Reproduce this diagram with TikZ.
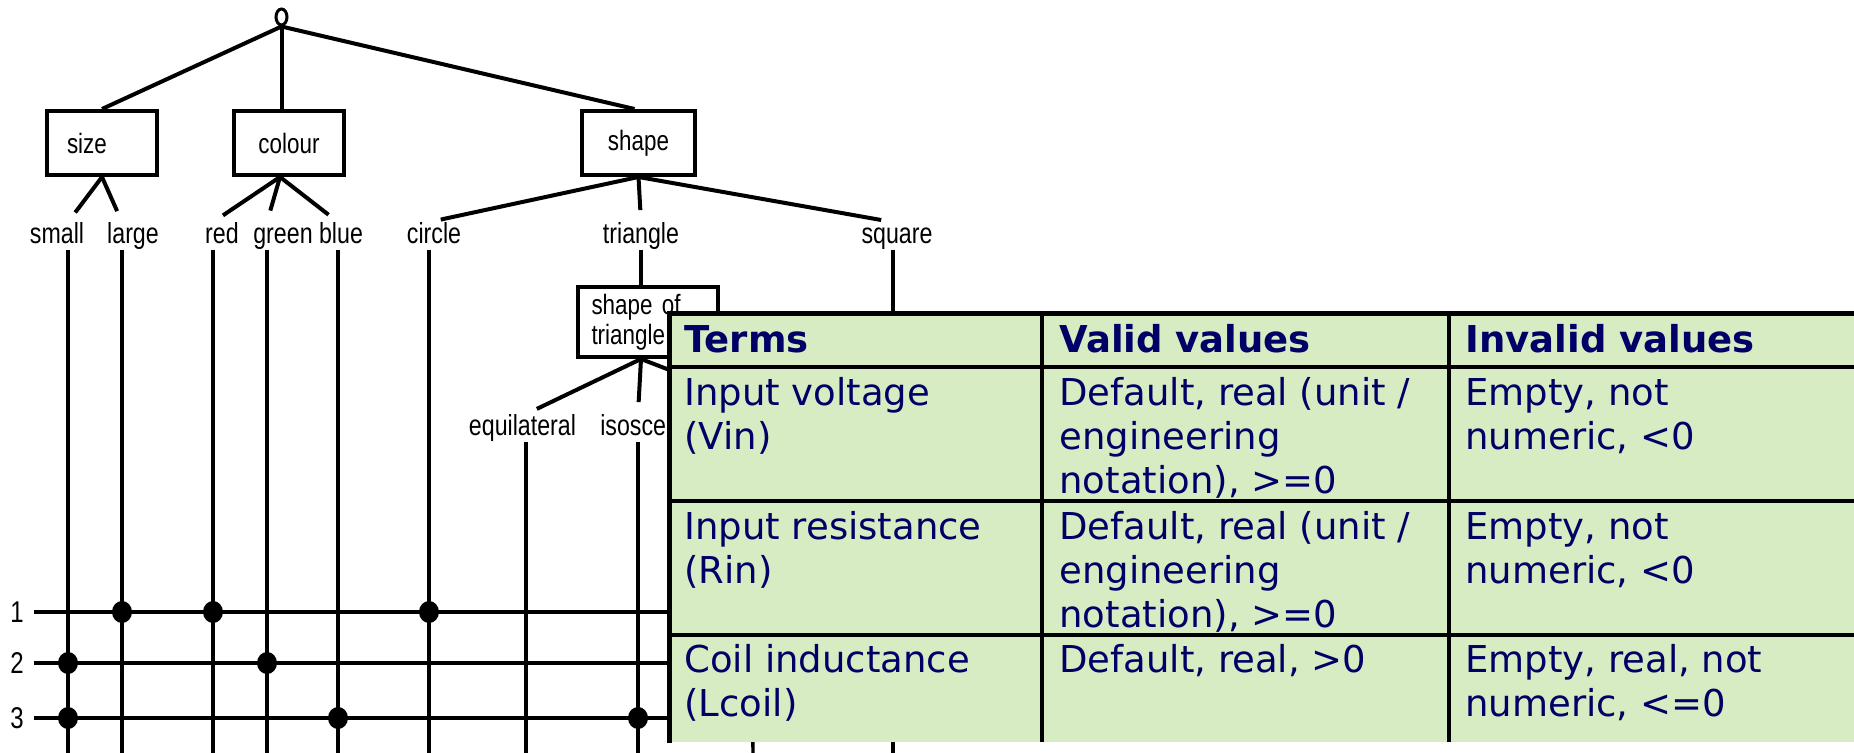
\documentclass[tikz,border=0pt]{standalone}
\usepackage{fontspec}
\usepackage{tikz}
\usetikzlibrary{shapes.geometric}
\newfontfamily\lblfont[FakeStretch=0.8]{Liberation Sans}
\newfontfamily\cellfont{DejaVu Sans}
\definecolor{tablegreen}{RGB}{216,236,195}
\definecolor{termblue}{RGB}{0,0,102}

\begin{document}
\begin{tikzpicture}[x=0.5pt, y=-0.5pt,
   attr/.style={rectangle, draw, line width=2pt, minimum width=55pt, minimum height=32pt,
                inner sep=2pt, font=\lblfont\fontsize{14}{15}\selectfont},
   val/.style={font=\lblfont\fontsize{14.5}{15}\selectfont, text height=10.5pt, text depth=3pt,
               inner xsep=1pt, inner ysep=0pt},
   num/.style={font=\lblfont\fontsize{15}{15}\selectfont, inner sep=1pt},
   twig/.style={line width=2pt, shorten >=6pt},
   wire/.style={line width=1.7pt},
   bus/.style={line width=2.2pt, shorten <=4pt},
   hit/.style={ellipse, fill, minimum width=10pt, minimum height=11pt, inner sep=0pt},
   frame/.style={line width=2.5pt},
   grid/.style={line width=1.7pt},
   cell/.style={anchor=north west, inner sep=0pt, align=left, text=termblue,
                font=\cellfont\fontsize{18.5}{22}\selectfont},
   head/.style={cell, font=\cellfont\bfseries\fontsize{18.5}{22}\selectfont}]
  \useasboundingbox (0,0) rectangle (1854,753);

  % tree of attributes
  \node[draw, ellipse, line width=1.5pt, minimum width=5.5pt, minimum height=8pt, inner sep=0pt] (root) at (281.5,17) {};
  \node[attr, text width=35pt, inner xsep=10pt, align=left] (size) at (102,143) {size};
  \node[attr] (colour) at (289,143) {colour};
  \node[attr, minimum width=56.5pt] (shape) at (638.5,143) {shape};

  \draw[twig, shorten >=0pt] (root.south) -- (size.north);
  \draw[twig, shorten >=0pt] (root.south) -- (root.south |- colour.north);
  \draw[twig, shorten >=0pt] (root.south) -- ([xshift=-2pt]shape.north);

  \coordinate (size-top) at (size.south);
  \coordinate (colour-top) at ([xshift=-4.5pt]colour.south);
  \coordinate (shape-top) at (shape.south);

  \node[val] (small) at (57,236) {small};
  \node[val] (large) at (133,236) {large};
  \node[val] (red) at (222,236) {red};
  \node[val] (green) at (283,236) {green};
  \node[val] (blue) at (341,236) {blue};
  \node[val] (circle) at (434,236) {circle};
  \node[val] (triangle) at (641,236) {triangle};
  \node[val] (square) at (897,236) {square};

  \foreach \leaf/\x/\up in {small/68/size, large/122/size, red/213/colour, green/267/colour,
                             blue/338/colour, circle/429/shape, square/893/shape}{
    \coordinate (\leaf-end) at (\x,753);
    \draw[twig] (\up-top) -- (\leaf.north -| \leaf-end);
    \draw[wire] (\leaf.south -| \leaf-end) -- (\leaf-end);
  }
  \draw[twig] (shape-top) -- (triangle.north);

  % shape of triangle
  \node[attr, text width=56pt, inner xsep=7pt, minimum height=35pt, align=left,
        font=\lblfont\fontsize{14}{15}\selectfont] (tribox) at (647.5,322) {shape of\\triangle};
  \draw[wire] (triangle.south) -- (triangle.south |- tribox.north);

  \node[val] (equilateral) at (522.5,428) {equilateral};
  \node[val] (iso) at (648,428) {isosceles};
  \coordinate (scal) at (750,401);
  \coordinate (equilateral-end) at (526,753);
  \coordinate (iso-end) at (638,753);
  \coordinate (scal-end) at (753,753);
  \draw[twig] (triangle.south |- tribox.south) -- (equilateral.north -| equilateral-end);
  \draw[twig] (triangle.south |- tribox.south) -- (iso.north -| iso-end);
  \draw[twig, shorten >=0pt] (triangle.south |- tribox.south) -- (scal);
  \draw[wire] (equilateral.south -| equilateral-end) -- (equilateral-end);
  \draw[wire] (iso.south -| iso-end) -- (iso-end);
  \draw[wire] (scal |- iso.south) -- (scal-end);

  % test cases
  \node[num] (n1) at (17,612) {1};
  \node[num] (n2) at (17,663) {2};
  \node[num] (n3) at (17,718) {3};
  \foreach \r in {n1,n2,n3}
    \draw[bus] (\r.east) -- (\r.east -| scal-end);
  \foreach \r/\leaf in {n1/large, n1/red, n1/circle, n2/small, n2/green,
                        n3/small, n3/blue, n3/iso}
    \node[hit] (\r-\leaf) at (\leaf-end |- \r) {};

  % table of terms
  \node[fill=tablegreen, minimum width=600pt, minimum height=214pt, anchor=north west,
        inner sep=0pt] (tab) at (669,314) {};
  \foreach \c in {1042,1449}
    \draw[grid] (\c,314) -- (\c,742);
  \foreach \r in {367,501,635}
    \draw[grid] (669,\r) -- (1870,\r);
  \draw[frame] (tab.south west) -- (tab.north west) -- (tab.north east);

  \node[head] (h1) at (684,321) {\strut Terms};
  \node[head] (h2) at (1059,321) {\strut Valid values};
  \node[head] (h3) at (1465,321) {\strut Invalid values};

  \node[cell] (a1) at (684,374) {\strut Input voltage\\(Vin)};
  \node[cell] (b1) at (1059,374) {\strut Default, real (unit /\\engineering\\notation), >=0};
  \node[cell] (c1) at (1465,374) {\strut Empty, not\\numeric, <0};

  \node[cell] (a2) at (684,508) {\strut Input resistance\\(Rin)};
  \node[cell] (b2) at (1059,508) {\strut Default, real (unit /\\engineering\\notation), >=0};
  \node[cell] (c2) at (1465,508) {\strut Empty, not\\numeric, <0};

  \node[cell] (a3) at (684,641) {\strut Coil inductance\\(Lcoil)};
  \node[cell] (b3) at (1059,641) {\strut Default, real, >0};
  \node[cell] (c3) at (1465,641) {\strut Empty, real, not\\numeric, <=0};
\end{tikzpicture}
\end{document}
